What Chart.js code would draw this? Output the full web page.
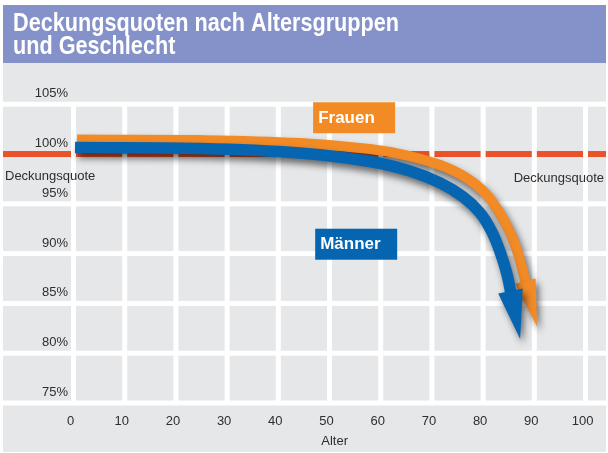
<!DOCTYPE html>
<html lang="de">
<head>
<meta charset="UTF-8">
<script src="https://cdn.jsdelivr.net/npm/chart.js@4.4.1/dist/chart.umd.min.js"></script>
<title>Deckungsquoten nach Altersgruppen und Geschlecht</title>
<style>
  html, body { margin: 0; padding: 0; background: #fff; }
  #wrap { width: 608px; height: 453px; }
</style>
</head>
<body>
<div id="wrap"><canvas id="chart" width="608" height="453"></canvas></div>
<script>
// --- Daten ---
const titleLines = ['Deckungsquoten nach Altersgruppen', 'und Geschlecht'];
const xTicks = [0, 10, 20, 30, 40, 50, 60, 70, 80, 90, 100];
const yTicks = [75, 80, 85, 90, 95, 100, 105];
const refQuote = 100; // Deckungsquote
const maennerAlter = [0.3, 24.7, 44.2, 57.9, 65.7, 71.6, 76.1, 79.4, 81.7, 83.5, 84.7, 85.45];
const maennerQuote = [100.65, 100.55, 100.1, 99.25, 98.3, 97.1, 95.7, 94.1, 92.2, 89.9, 87.85, 85.95];
const frauenAlter = [0.7, 24.7, 44.2, 57.9, 65.7, 71.6, 76.5, 80.4, 83.1, 85.1, 86.6, 87.6, 88.4];
const frauenQuote = [101.45, 101.4, 101.1, 100.5, 99.8, 98.9, 97.7, 96.1, 94.2, 92.3, 90.35, 88.55, 86.95];

const ORANGE = '#f28a26';
const BLUE = '#0565b1';
const RED = '#e9522b';
const GREY = '#e6e7e9';
const TXT = '#2e2e2e';
const FONT = '"Liberation Sans", Arial, sans-serif';

function pts(xs, ys) { return xs.map((x, i) => ({ x: x, y: ys[i] })); }

// Hintergrund + Titel
const bgPlugin = {
  id: 'bg',
  beforeDraw(chart) {
    const ctx = chart.ctx;
    ctx.save();
    ctx.fillStyle = '#fff';
    ctx.fillRect(0, 0, chart.width, chart.height);
    ctx.fillStyle = GREY;
    ctx.fillRect(3, 63, 603, 389);
    ctx.fillStyle = '#8492c9';
    ctx.fillRect(3, 5, 603, 58);
    ctx.fillStyle = '#fff';
    ctx.font = 'bold 25px "Liberation Sans Narrow", ' + FONT;
    ctx.textBaseline = 'alphabetic';
    const full = ctx.measureText(titleLines[0]).width;
    const sx = full > 386 ? 386 / full : 1;
    titleLines.forEach((t, i) => {
      ctx.save();
      ctx.translate(13, 31 + i * 23);
      ctx.scale(sx, 1);
      ctx.fillText(t, 0, 0);
      ctx.restore();
    });
    ctx.restore();
  }
};

// Raster, Referenzlinie, Beschriftungen
const gridPlugin = {
  id: 'grid',
  beforeDatasetsDraw(chart) {
    const ctx = chart.ctx, xs = chart.scales.x, ys = chart.scales.y;
    const left = 3, right = 606;
    ctx.save();
    ctx.fillStyle = '#fff';
    yTicks.forEach(v => {
      if (v === refQuote) return;
      const y = ys.getPixelForValue(v);
      ctx.fillRect(left, y - 2.5, right - left, 5);
    });
    const yr = ys.getPixelForValue(refQuote);
    ctx.fillStyle = RED;
    ctx.fillRect(left, yr - 3, right - left, 6);
    ctx.fillStyle = '#fff';
    const top = ys.getPixelForValue(yTicks[yTicks.length - 1]);
    const bot = ys.getPixelForValue(yTicks[0]);
    xTicks.forEach(v => {
      const x = xs.getPixelForValue(v);
      ctx.fillRect(x - 2.5, top, 5, bot - top);
    });

    ctx.fillStyle = TXT;
    ctx.font = '13px ' + FONT;
    ctx.textBaseline = 'alphabetic';
    ctx.textAlign = 'right';
    yTicks.forEach(v => {
      ctx.fillText(v + '%', 68, ys.getPixelForValue(v) - 7);
    });
    ctx.textAlign = 'center';
    xTicks.forEach(v => {
      ctx.fillText(String(v), xs.getPixelForValue(v) - 3, 425);
    });
    ctx.fillText('Alter', xs.getPixelForValue(51), 445);
    ctx.textAlign = 'left';
    ctx.fillText('Deckungsquote', 5, yr + 26);
    ctx.textAlign = 'right';
    ctx.fillText('Deckungsquote', 604, yr + 28);
    ctx.restore();
  },
  afterDatasetsDraw(chart) {
    const ctx = chart.ctx, xs = chart.scales.x, ys = chart.scales.y;
    const boxes = [
      { text: 'Frauen', x: 46.8, y: 105.2, color: ORANGE },
      { text: 'Männer', x: 47.2, y: 92.5, color: BLUE }
    ];
    ctx.save();
    boxes.forEach(b => {
      const x = xs.getPixelForValue(b.x), y = ys.getPixelForValue(b.y);
      ctx.fillStyle = b.color;
      ctx.fillRect(x, y, 82, 31);
      ctx.fillStyle = '#fff';
      ctx.font = 'bold 17px ' + FONT;
      ctx.textAlign = 'left';
      ctx.textBaseline = 'middle';
      ctx.fillText(b.text, x + 5, y + 16);
    });
    ctx.restore();
  }
};

// Schatten und Pfeilspitzen
const arrowPlugin = {
  id: 'arrows',
  beforeDatasetDraw(chart) {
    const ctx = chart.ctx;
    ctx.save();
    ctx.shadowColor = 'rgba(0,0,0,0.55)';
    ctx.shadowBlur = 7;
    ctx.shadowOffsetX = 3;
    ctx.shadowOffsetY = 5;
  },
  afterDatasetDraw(chart, args) {
    const ctx = chart.ctx;
    const meta = args.meta, ds = chart.data.datasets[args.index];
    const n = meta.data.length;
    const p = meta.data[n - 1];
    let qx = p.cp1x, qy = p.cp1y;
    if (qx === undefined || (Math.abs(qx - p.x) < 0.5 && Math.abs(qy - p.y) < 0.5)) {
      qx = meta.data[n - 2].x; qy = meta.data[n - 2].y;
    }
    let dx = p.x - qx, dy = p.y - qy;
    const len = Math.hypot(dx, dy);
    dx /= len; dy /= len;
    const nx = -dy, ny = dx;
    const L = ds.headLength, hw = ds.headWidth;
    const bx = p.x - dx * 3, by = p.y - dy * 3;
    ctx.beginPath();
    ctx.moveTo(bx + nx * hw, by + ny * hw);
    ctx.lineTo(p.x + dx * L, p.y + dy * L);
    ctx.lineTo(bx - nx * hw, by - ny * hw);
    ctx.closePath();
    ctx.fillStyle = ds.borderColor;
    ctx.fill();
    ctx.restore();
  }
};

const ctx = document.getElementById('chart');
new Chart(ctx, {
  type: 'line',
  data: {
    datasets: [
      {
        label: 'Männer',
        data: pts(maennerAlter, maennerQuote),
        borderColor: BLUE,
        borderWidth: 11.5,
        borderCapStyle: 'butt',
        tension: 0.4,
        pointRadius: 0,
        headLength: 46,
        headWidth: 12.5
      },
      {
        label: 'Frauen',
        data: pts(frauenAlter, frauenQuote),
        borderColor: ORANGE,
        borderWidth: 10,
        borderCapStyle: 'butt',
        tension: 0.4,
        pointRadius: 0,
        headLength: 44,
        headWidth: 10.5
      }
    ]
  },
  options: {
    responsive: false,
    animation: false,
    devicePixelRatio: 1,
    layout: { padding: { left: 3, right: 2, top: 63, bottom: 50 } },
    scales: {
      x: { type: 'linear', min: -13.77, max: 104.0, display: false },
      y: { type: 'linear', min: 75, max: 109.14, display: false }
    },
    plugins: {
      legend: { display: false },
      tooltip: { enabled: false }
    }
  },
  plugins: [bgPlugin, gridPlugin, arrowPlugin]
});
</script>
</body>
</html>
